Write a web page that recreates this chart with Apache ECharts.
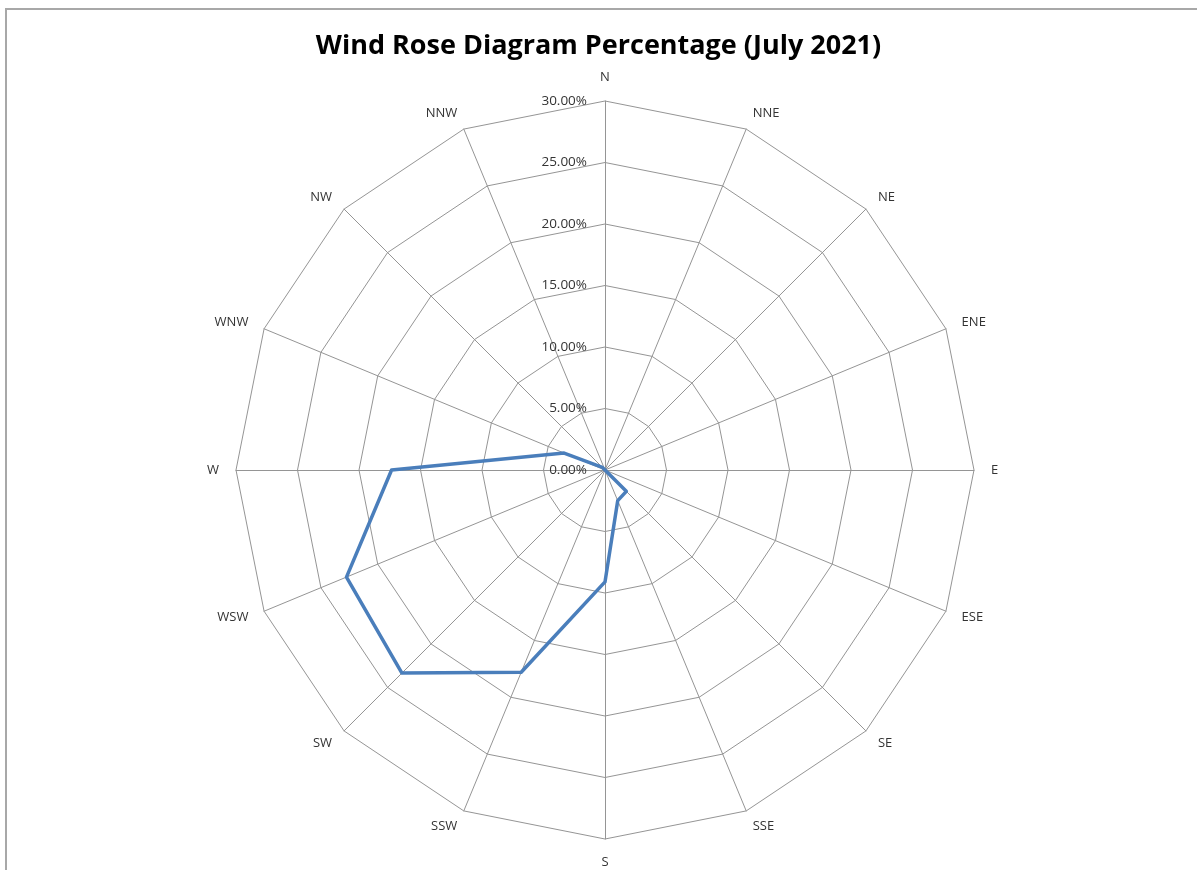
<!DOCTYPE html>
<html>
<head>
<meta charset="utf-8">
<script src="https://cdn.jsdelivr.net/npm/echarts@6/dist/echarts.min.js"></script>
<style>
  html, body { margin: 0; padding: 0; background: #fff; }
  #frame { position: absolute; left: 5px; top: 8px; width: 1300px; height: 1000px;
           border-top: 2px solid #a8a8a8; border-left: 2px solid #a8a8a8; pointer-events: none; }
  #chart { position: absolute; left: 0; top: 0; width: 1197px; height: 870px; }
</style>
</head>
<body>
<div id="chart"></div>
<div id="frame"></div>
<script>
// Directions in compass (clockwise) order
const directions = ['N','NNE','NE','ENE','E','ESE','SE','SSE','S','SSW','SW','WSW','W','WNW','NW','NNW'];
// Percent of time wind came from each direction (July 2021)
const percentages = [0, 0, 0, 0, 0, 0, 2.45, 2.7, 9.1, 17.8, 23.35, 22.75, 17.35, 3.6, 0.3, 0];
const axisMax = 30;
const axisStep = 5;

// ECharts radar lays indicators counter-clockwise; reorder so they run clockwise
const order = [0].concat(directions.map((d, i) => i).slice(1).reverse());
const indicators = order.map(i => ({ name: directions[i], max: axisMax, min: 0 }));
const values = order.map(i => percentages[i]);

const chart = echarts.init(document.getElementById('chart'));
const center = [605, 470];
const radius = 369;
chart.setOption({
  animation: false,
  backgroundColor: '#fff',
  title: {
    text: 'Wind Rose Diagram Percentage (July 2021)',
    left: 'center',
    top: 28,
    textStyle: { fontFamily: 'Open Sans', fontWeight: 'bold', fontSize: 27, color: '#000' }
  },
  radar: {
    center: center,
    radius: radius,
    startAngle: 90,
    splitNumber: axisMax / axisStep,
    shape: 'polygon',
    indicator: indicators,
    axisName: { color: '#333', fontSize: 13, fontFamily: 'Open Sans' },
    nameGap: 17,
    axisLine: { lineStyle: { color: '#959595', width: 1 } },
    splitLine: { lineStyle: { color: '#959595', width: 1 } },
    splitArea: { show: false },
    axisLabel: { show: false }
  },
  polar: { center: center, radius: radius },
  angleAxis: { type: 'value', min: 0, max: 360, startAngle: 90, show: false },
  radiusAxis: {
    type: 'value', min: 0, max: axisMax, interval: axisStep,
    axisLine: { show: false }, axisTick: { show: false }, splitLine: { show: false },
    axisLabel: {
      formatter: v => v.toFixed(2) + '%',
      color: '#333', fontSize: 13.5, fontFamily: 'Open Sans', margin: 18
    },
    z: 10
  },
  series: [{
    type: 'radar',
    symbol: 'none',
    lineStyle: { color: '#4a7ebb', width: 3.5 },
    data: [{ value: values, name: 'July 2021' }]
  }]
});
</script>
</body>
</html>
